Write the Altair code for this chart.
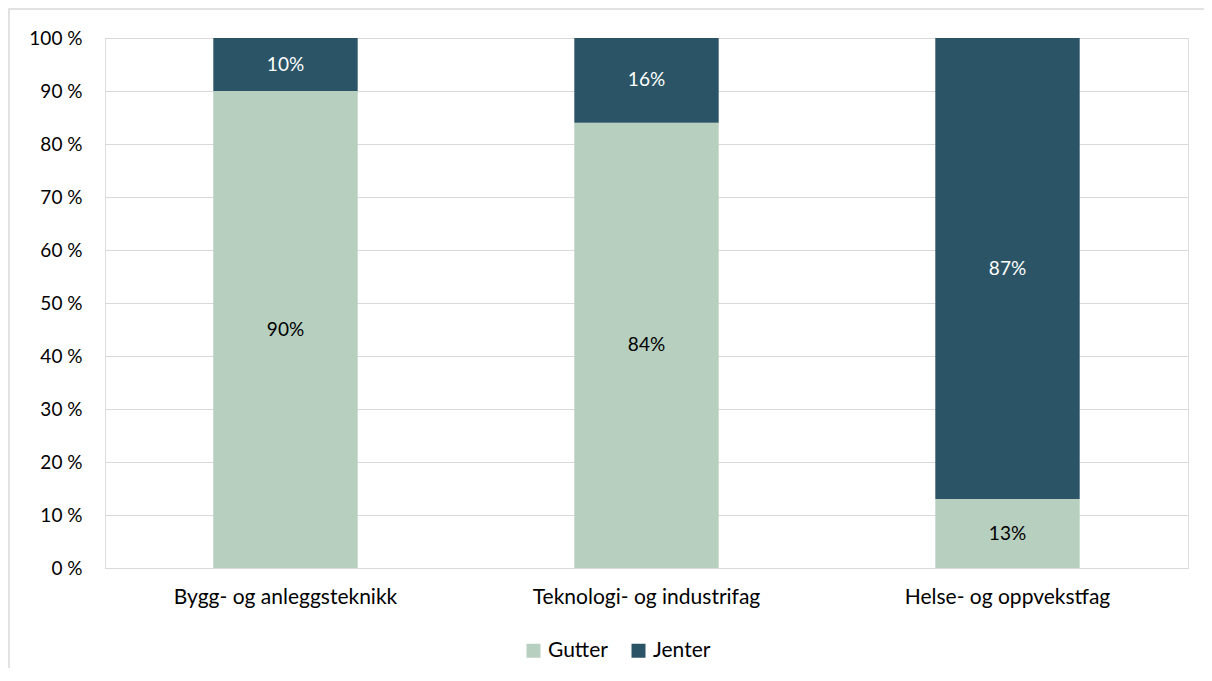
import altair as alt
import pandas as pd

categories = ["Bygg- og anleggsteknikk", "Teknologi- og industrifag", "Helse- og oppvekstfag"]
gutter = [90, 84, 13]
jenter = [10, 16, 87]
groups = ["Gutter", "Jenter"]
colors = ["#b6cfbf", "#2b5566"]

rows = []
for c, g, j in zip(categories, gutter, jenter):
    rows.append({"kat": c, "kjonn": "Gutter", "verdi": g, "ord": 0})
    rows.append({"kat": c, "kjonn": "Jenter", "verdi": j, "ord": 1})
df = pd.DataFrame(rows)

FONT = "Lato"
W, H = 1083, 530

x = alt.X("kat:N", sort=categories, title=None,
          scale=alt.Scale(paddingInner=0.6, paddingOuter=0.3),
          axis=alt.Axis(labelAngle=0, labelFontSize=21, labelColor="#000000", labelFont=FONT,
                        labelLimit=0, ticks=False, domainColor="#d9d9d9", labelPadding=18))

bars = alt.Chart(df).mark_bar().encode(
    x=x,
    y=alt.Y("verdi:Q", stack="zero", title=None,
            scale=alt.Scale(domain=[0, 100]),
            axis=alt.Axis(values=list(range(0, 101, 10)), labelExpr="datum.value + ' %'",
                          labelFontSize=19, labelColor="#000000", labelFont=FONT,
                          ticks=False, domain=False, gridColor="#d9d9d9", labelPadding=23)),
    color=alt.Color("kjonn:N", sort=groups,
                    scale=alt.Scale(domain=groups, range=colors),
                    legend=alt.Legend(orient="none", legendX=418, legendY=602, direction="horizontal",
                                      title=None, symbolType="square", symbolSize=196,
                                      symbolStrokeWidth=0, labelFontSize=21, labelFont=FONT,
                                      labelColor="#000000", columnPadding=20, labelOffset=4)),
    order=alt.Order("ord:Q"),
)

text = alt.Chart(df).mark_text(fontSize=19, font=FONT).encode(
    x=alt.X("kat:N", sort=categories),
    y=alt.Y("verdi:Q", stack="zero", bandPosition=0.5),
    detail="kjonn:N",
    order=alt.Order("ord:Q"),
    text=alt.Text("label:N"),
    color=alt.condition(alt.datum.kjonn == "Jenter", alt.value("#ffffff"), alt.value("#000000")),
).transform_calculate(label="datum.verdi + '%'")

frame = alt.Chart(pd.DataFrame({"a": [0]})).mark_rect(
    fill=None, stroke="#d9d9d9", strokeWidth=1.5, clip=False
).encode(x=alt.value(-96), x2=alt.value(W + 40), y=alt.value(-29), y2=alt.value(H + 200))

chart = alt.layer(frame, bars, text).resolve_scale(color="independent").properties(
    width=W, height=H,
    padding={"left": 97, "top": 30, "right": 16, "bottom": 100},
    autosize=alt.AutoSizeParams(type="none"),
).configure_view(stroke=None).configure(background="#ffffff")

chart.save("out.html", embed_options={"renderer": "svg", "actions": False})
